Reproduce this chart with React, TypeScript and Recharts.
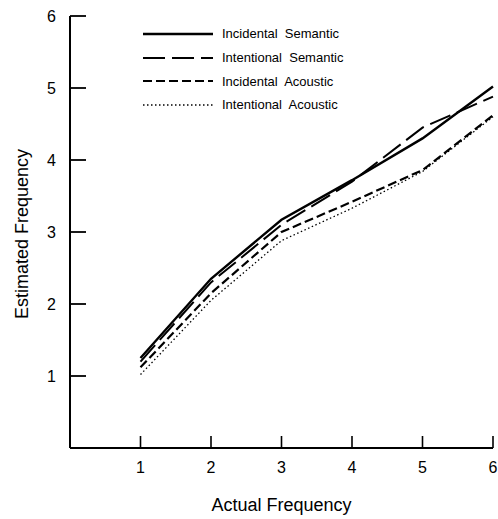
import { LineChart, Line, XAxis, YAxis } from 'recharts';

const actual = [1, 2, 3, 4, 5, 6];
const incidentalSemantic = [1.25, 2.35, 3.17, 3.72, 4.3, 5.02];
const intentionalSemantic = [1.2, 2.3, 3.1, 3.7, 4.45, 4.88];
const incidentalAcoustic = [1.12, 2.15, 3.0, 3.42, 3.86, 4.62];
const intentionalAcoustic = [1.02, 2.05, 2.88, 3.33, 3.84, 4.6];
const xTicks = [1, 2, 3, 4, 5, 6];
const yTicks = [1, 2, 3, 4, 5, 6];

const data = actual.map((a, i) => ({
  actual: a,
  incSem: incidentalSemantic[i],
  intSem: intentionalSemantic[i],
  incAco: incidentalAcoustic[i],
  intAco: intentionalAcoustic[i]
}));

const series = [
  { key: 'incSem', name: 'Incidental  Semantic', dash: undefined, width: 2.4 },
  { key: 'intSem', name: 'Intentional  Semantic', dash: '22 7', width: 2 },
  { key: 'incAco', name: 'Incidental  Acoustic', dash: '9 4', width: 2.2 },
  { key: 'intAco', name: 'Intentional  Acoustic', dash: '1.5 2.5', width: 1.3 }
];

const font = '"Liberation Sans", Arial, sans-serif';

function XTick({ x, y, payload }: any) {
  return (
    <g>
      <line x1={x} x2={x} y1={y} y2={y - 12} stroke="#000" strokeWidth={1.6} />
      <text x={x} y={y + 25} textAnchor="middle" fontSize={16} fontFamily={font} fill="#000">
        {payload.value}
      </text>
    </g>
  );
}

function YTick({ x, y, payload }: any) {
  return (
    <g>
      <line x1={x} x2={x + 16} y1={y} y2={y} stroke="#000" strokeWidth={1.8} />
      <text x={x - 14} y={y + 6} textAnchor="end" fontSize={16} fontFamily={font} fill="#000">
        {payload.value}
      </text>
    </g>
  );
}

function YLabel() {
  // centred on the plot's vertical middle (top 16, bottom 448)
  const cy = 234;
  return (
    <text
      x={28}
      y={cy}
      transform={`rotate(-90 28 ${cy})`}
      textAnchor="middle"
      fontSize={18}
      fontFamily={font}
      fill="#000"
    >
      Estimated Frequency
    </text>
  );
}

export default function App() {
  return (
    <div style={{ position: 'absolute', left: 0, top: 0, width: 498, height: 519, background: '#fff' }}>
      <LineChart width={498} height={519} data={data} margin={{ top: 16, right: 5, left: 0, bottom: 0 }}>
        <XAxis
          dataKey="actual"
          type="number"
          domain={[0, 6]}
          ticks={xTicks}
          height={71}
          tickSize={0}
          tickMargin={0}
          tickLine={false}
          tick={<XTick />}
          axisLine={{ stroke: '#000', strokeWidth: 2 }}
          label={{ value: 'Actual  Frequency', position: 'insideBottom', offset: 8, fontSize: 18, fontFamily: font, fill: '#000' }}
        />
        <YAxis
          type="number"
          domain={[0, 6]}
          ticks={yTicks}
          width={70}
          tickSize={0}
          tickMargin={0}
          tickLine={false}
          tick={<YTick />}
          axisLine={{ stroke: '#000', strokeWidth: 2 }}
          label={<YLabel />}
        />
        {series.map((s) => (
          <Line
            key={s.key}
            dataKey={s.key}
            name={s.name}
            stroke="#000"
            strokeWidth={s.width}
            strokeDasharray={s.dash}
            dot={false}
            type="linear"
            isAnimationActive={false}
          />
        ))}
      </LineChart>
      <div style={{ position: 'absolute', left: 143, top: 22 }}>
        {series.map((s) => (
          <div key={s.key} style={{ display: 'flex', alignItems: 'center', height: 23.7 }}>
            <svg width={70} height={6}>
              <line x1={0} x2={70} y1={3} y2={3} stroke="#000" strokeWidth={s.width} strokeDasharray={s.dash} />
            </svg>
            <span style={{ marginLeft: 9, fontSize: 13, fontFamily: font, whiteSpace: 'pre', color: '#000' }}>{s.name}</span>
          </div>
        ))}
      </div>
    </div>
  );
}
